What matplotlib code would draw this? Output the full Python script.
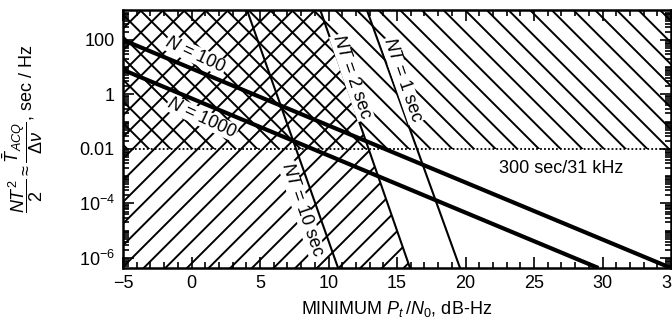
import numpy as np
import matplotlib
matplotlib.use("Agg")
import matplotlib.pyplot as plt
from matplotlib.ticker import FixedLocator, LogLocator, NullFormatter

# hatch cell size follows the dpi, so draw at a lower dpi and scale point sizes
DPI = 65
k = 100 / DPI

plt.rcParams['font.family'] = ['Liberation Sans', 'DejaVu Sans']
plt.rcParams['mathtext.fontset'] = 'custom'
plt.rcParams['mathtext.rm'] = 'Liberation Sans'
plt.rcParams['mathtext.it'] = 'Liberation Sans:italic'
plt.rcParams['mathtext.bf'] = 'Liberation Sans:bold'
plt.rcParams['hatch.linewidth'] = 1.4 * k

# axis range (x in dB-Hz, y = NT^2/2 in sec/Hz)
x_lim = [-5, 35]
y_lim = [10 ** -6.37, 10 ** 3.1]

# N = 100 / N = 1000 loss lines (endpoints)
n100_x = [-5, 35]
n100_y = [1e2, 10 ** -6.37]
n1000_x = [-5, 29.7]
n1000_y = [8.0, 10 ** -6.37]

# NT = const lines: x at top and bottom of the plot
nt_y = [10 ** 3.1, 10 ** -6.37]
nt10_x = [4.05, 10.7]
nt2_x = [9.4, 15.95]
nt1_x = [12.8, 19.6]

# 300 sec / 31 kHz limit
limit_y = 0.01

yticks = [1e2, 1, 1e-2, 1e-4, 1e-6]
ytick_labels = ['100', '1', '0.01', r'$10^{-4}$', r'$10^{-6}$']
xticks = [-5, 0, 5, 10, 15, 20, 25, 30, 35]

fig = plt.figure(figsize=(672 / DPI, 327 / DPI), dpi=DPI)
ax = fig.add_axes([123 / 672, 1 - 268 / 327, 548 / 672, 258 / 327])
ax.set_yscale('log')
ax.set_xlim(x_lim)
ax.set_ylim(y_lim)

# hatched regions: above the time limit, and left of NT = 2 sec
ax.fill_between(x_lim, limit_y, y_lim[1], facecolor='none', edgecolor='black',
                hatch='\\', linewidth=0, zorder=1)
ax.fill_betweenx(nt_y, x_lim[0], nt2_x, facecolor='none', edgecolor='black',
                 hatch='/', linewidth=0, zorder=1)

ax.axhline(limit_y, color='black', linestyle=(0, (1, 1.2)), linewidth=1.3 * k, zorder=2)

for xs in (nt10_x, nt2_x, nt1_x):
    ax.plot(xs, nt_y, color='black', linewidth=1.5 * k, zorder=3)
ax.plot(n100_x, n100_y, color='black', linewidth=3.0 * k, solid_capstyle='butt', zorder=4)
ax.plot(n1000_x, n1000_y, color='black', linewidth=3.0 * k, solid_capstyle='butt', zorder=4)

fs = 13 * k
box = dict(facecolor='white', edgecolor='none', pad=0.3 * k)
ax.text(0.3, 10 ** 1.45, r'$N$ = 100', rotation=-25, ha='center', va='center', fontsize=fs,
        bbox=box, zorder=5)
ax.text(0.77, 0.138, r'$N$ = 1000', rotation=-25, ha='center', va='center', fontsize=fs,
        bbox=box, zorder=5)
ax.text(11.7, 4.4, r'$NT$ = 2 sec', rotation=-71, ha='center', va='center', fontsize=fs,
        bbox=box, zorder=5)
ax.text(15.4, 3.4, r'$NT$ = 1 sec', rotation=-71, ha='center', va='center', fontsize=fs,
        bbox=box, zorder=5)
ax.text(8.07, 10 ** -4.24, r'$NT$ = 10 sec', rotation=-71, ha='center', va='center',
        fontsize=fs, bbox=box, zorder=5)
ax.text(27.0, 10 ** -2.73, '300 sec/31 kHz', ha='center', va='center', fontsize=fs, zorder=5)

ax.xaxis.set_major_locator(FixedLocator(xticks))
ax.xaxis.set_minor_locator(FixedLocator(np.arange(-5, 36, 1)))
ax.yaxis.set_major_locator(FixedLocator(yticks))
ax.set_yticklabels(ytick_labels)
ax.yaxis.set_minor_locator(LogLocator(base=10, subs=np.arange(1, 10), numticks=30))
ax.yaxis.set_minor_formatter(NullFormatter())
ax.tick_params(which='both', direction='in', top=True, right=True, labelsize=fs,
               width=1.2 * k)
ax.tick_params(which='major', length=8 * k)
ax.tick_params(which='minor', length=4 * k)
ax.tick_params(axis='x', pad=5 * k)
ax.tick_params(axis='y', pad=6 * k)
for sp in ax.spines.values():
    sp.set_linewidth(1.8 * k)

ax.set_xlabel(r'MINIMUM $P_t\,/N_0$, dB-Hz', fontsize=fs, labelpad=5 * k)
ax.set_ylabel(r'$\dfrac{NT^2}{2} \approx \dfrac{\bar{T}_{ACQ}}{\Delta\nu}$, sec / Hz',
              fontsize=fs)
ax.yaxis.set_label_coords(-0.142, 0.54)

fig.savefig('out.png', dpi=DPI)
